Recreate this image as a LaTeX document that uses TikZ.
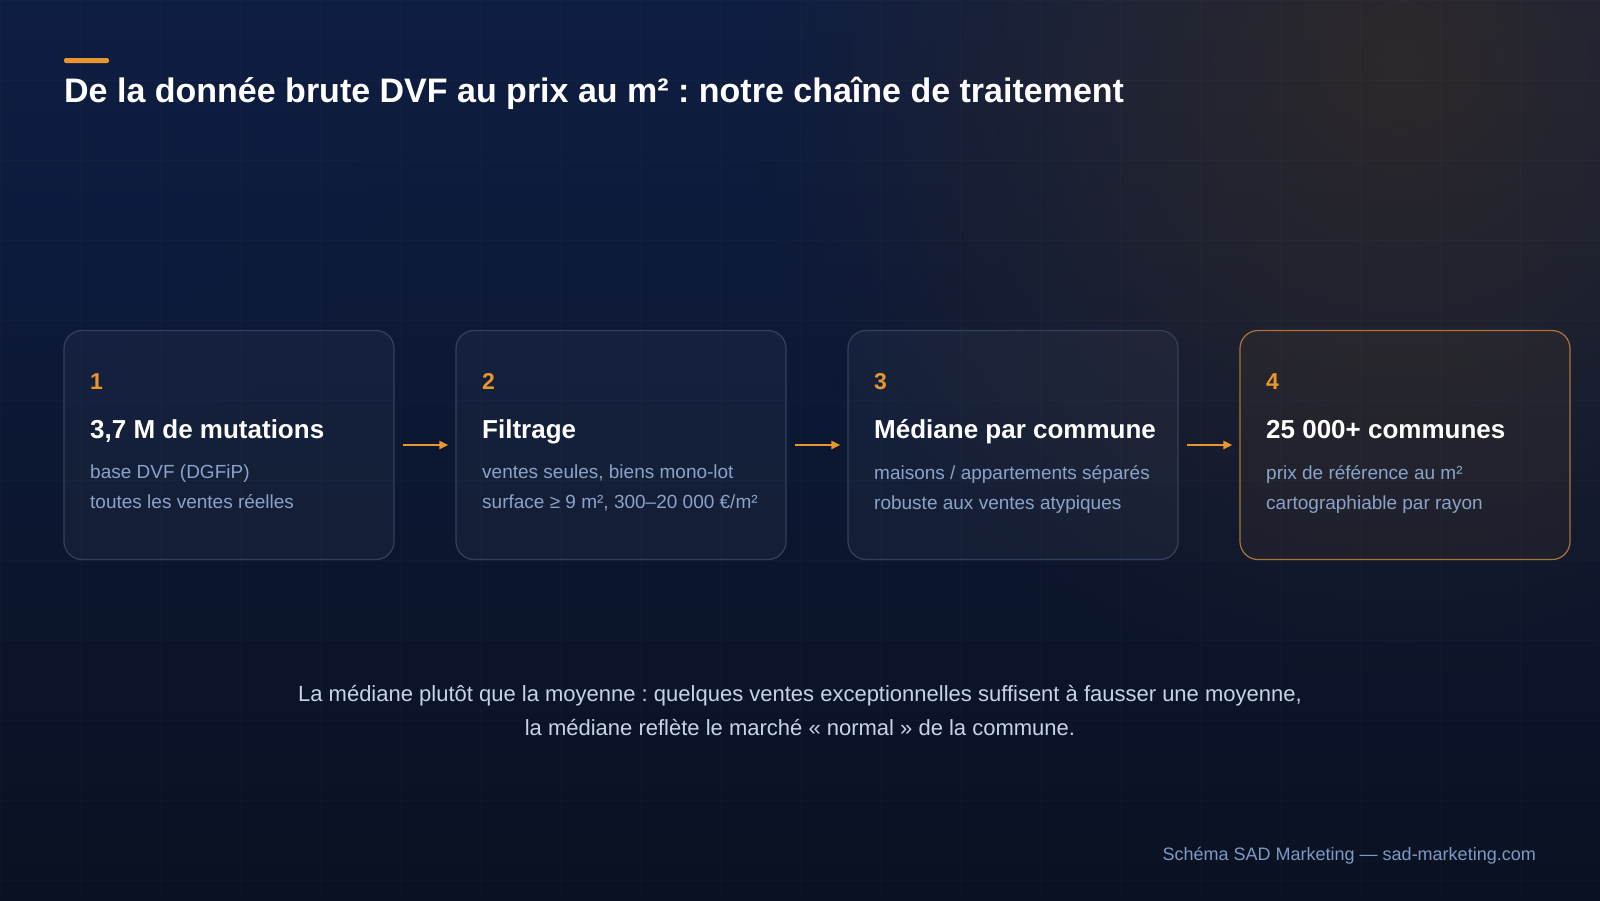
\documentclass[tikz,border=0pt]{standalone}
\usepackage{fontspec}
\setmainfont{Liberation Sans}
\frenchspacing
\usetikzlibrary{arrows.meta,fadings}
\tikzfading[name=myglow, inner color=transparent!0, outer color=transparent!100]
\definecolor{bgtop}{HTML}{0E1D42}
\definecolor{bgbot}{HTML}{0A1122}
\definecolor{warm}{HTML}{3A2E22}
\definecolor{accent}{HTML}{E8962E}
\definecolor{subtxt}{HTML}{8BA3C9}
\definecolor{notetxt}{HTML}{C9D3E6}
\definecolor{foottxt}{HTML}{7E9AC4}
\definecolor{boxline}{HTML}{34405C}
\definecolor{boxlinehl}{HTML}{A9753A}
\tikzset{
  x=1pt, y=-1pt,
  stepcard/.style={draw=boxline, line width=1.2pt, rounded corners=18pt,
    fill=white, fill opacity=0.035, text opacity=1,
    minimum width=330pt, minimum height=229pt, inner sep=0pt},
  hlcard/.style={stepcard, draw=boxlinehl, fill=accent, fill opacity=0.05},
  numtxt/.style={anchor=base west, inner sep=0pt, text=accent, font=\fontsize{23}{26}\selectfont\bfseries},
  headtxt/.style={anchor=base west, inner sep=0pt, text=white, font=\fontsize{26}{30}\selectfont\bfseries},
  bodytxt/.style={anchor=north west, inner sep=0pt, text=subtxt, align=left,
    font=\fontsize{19}{30}\selectfont},
  flow/.style={draw=accent, line width=2.5pt, -{Triangle[length=9pt,width=8pt]},
    shorten <=8pt, shorten >=7pt}
}
\begin{document}
\begin{tikzpicture}
\useasboundingbox (0,0) rectangle (1600,900);
% background
\shade[top color=bgtop, bottom color=bgbot] (0,0) rectangle (1600,900);
\fill[warm, path fading=myglow, fill opacity=0.7] (1400,60) circle (650);
\fill[bgtop, path fading=myglow, fill opacity=0.5] (80,40) circle (450);
\draw[white, opacity=0.018, line width=0.6pt, step=80pt] (0,0) grid (1600,900);
% title
\fill[accent, rounded corners=2pt] (64,58) rectangle (109,63);
\node[anchor=base west, inner sep=0pt, text=white, font=\fontsize{34}{38}\selectfont\bfseries]
  (title) at (64,102) {De la donnée brute DVF au prix au m² : notre chaîne de traitement};
% cards
\node[stepcard] (c1) at (229,445) {};
\node[stepcard] (c2) at (621,445) {};
\node[stepcard] (c3) at (1013,445) {};
\node[hlcard]   (c4) at (1405,445) {};
\foreach \i/\x/\n/\h/\a/\b in {
  1/90/1/{3,7 M de mutations}/{base DVF (DGFiP)}/{toutes les ventes réelles},
  2/482/2/{Filtrage}/{ventes seules, biens mono-lot}/{surface ≥ 9 m², 300–20 000 €/m²},
  3/874/3/{Médiane par commune}/{maisons / appartements séparés}/{robuste aux ventes atypiques},
  4/1266/4/{25 000+ communes}/{prix de référence au m²}/{cartographiable par rayon}} {
  \node[numtxt]  (n\i) at (\x,389) {\n};
  \node[headtxt] (h\i) at (\x,438) {\h};
  \node[bodytxt] (b\i) at (\x,465) {\a\\\b};
}
% arrows
\draw[flow] (c1.east) -- (c2.west);
\draw[flow] (c2.east) -- (c3.west);
\draw[flow] (c3.east) -- (c4.west);
% note
\node[align=center, inner sep=0pt, text=notetxt, font=\fontsize{22}{34}\selectfont]
  (note) at (800,710) {La médiane plutôt que la moyenne : quelques ventes exceptionnelles suffisent à fausser une moyenne,\\la médiane reflète le marché « normal » de la commune.};
% footer
\node[anchor=east, inner sep=0pt, text=foottxt, font=\fontsize{18}{20}\selectfont]
  (foot) at (1536,856) {Schéma SAD Marketing — sad-marketing.com};
\end{tikzpicture}
\end{document}
